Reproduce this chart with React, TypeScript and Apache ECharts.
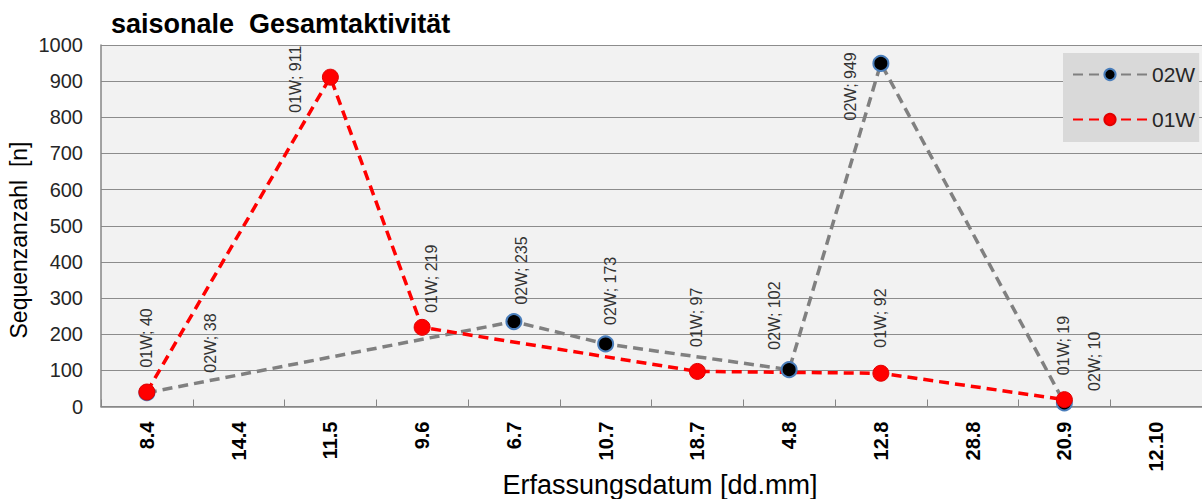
import React, { useEffect, useRef } from 'react';
import * as echarts from 'echarts';

const categories = ['8.4', '14.4', '11.5', '9.6', '6.7', '10.7', '18.7', '4.8', '12.8', '28.8', '20.9', '12.10'];
const values02W: (number | null)[] = [38, null, null, null, 235, 173, null, 102, 949, null, 10, null];
const values01W: (number | null)[] = [40, null, 911, 219, null, null, 97, null, 92, null, 19, null];
const seriesNames = ['02W', '01W'];
const yTicks = { min: 0, max: 1000, interval: 100 };

// label anchor offsets (screen px, relative to the point) — style only
const labelOffsets02W: ([number, number] | null)[] = [[65, -19], null, null, null, [9, -16], [6, -18], null, [-14, -19], [-29, 58], null, [31, -11], null];
const labelOffsets01W: ([number, number] | null)[] = [[0, -24], null, [-34, 36], [10, -14], null, null, [0, -24], null, [0, -25], null, [0, -24], null];

const FONT = "'Liberation Sans', Arial, sans-serif";

function buildData(values: (number | null)[], offsets: ([number, number] | null)[], size: number) {
  return values.map((v, i) => {
    if (v == null) return null;
    const off = offsets[i] || [0, -20];
    return { value: v, label: { position: [size / 2 + off[0], size / 2 + off[1]] } };
  });
}

export default function App() {
  const ref = useRef<HTMLDivElement>(null);
  useEffect(() => {
    if (!ref.current) return;
    const chart = echarts.init(ref.current, undefined, { renderer: 'svg' });
    const labelCommon = {
      show: true,
      rotate: 90,
      align: 'left',
      verticalAlign: 'middle',
      fontSize: 16,
      color: '#333',
      fontFamily: FONT,
      formatter: (p: any) => `${p.seriesName}; ${p.value}`,
    };
    const size02 = 15;
    const size01 = 16;
    chart.setOption({
      animation: false,
      backgroundColor: '#ffffff',
      title: {
        text: 'saisonale  Gesamtaktivität',
        left: 111,
        top: 10,
        padding: 0,
        textStyle: { fontSize: 27, fontWeight: 'bold', color: '#000', fontFamily: FONT },
      },
      legend: {
        orient: 'vertical',
        left: 1063,
        top: 53,
        padding: [11, 4, 12, 9],
        itemGap: 24,
        itemWidth: 74,
        itemHeight: 14,
        backgroundColor: '#d9d9d9',
        textStyle: { fontSize: 21, color: '#262626', fontFamily: FONT },
        data: seriesNames,
      },
      grid: {
        left: 101,
        right: -6,
        top: 45,
        bottom: 92.5,
        show: true,
        backgroundColor: '#f2f2f2',
        borderWidth: 0,
      },
      xAxis: {
        type: 'category',
        data: categories,
        boundaryGap: true,
        axisLine: { lineStyle: { color: '#868686', width: 1.5 } },
        axisTick: { show: true, inside: true, length: 7, lineStyle: { color: '#868686', width: 1 } },
        axisLabel: { rotate: 90, interval: 0, fontWeight: 'bold', fontSize: 20, color: '#000', margin: 15, fontFamily: FONT },
        splitLine: { show: false },
      },
      yAxis: {
        type: 'value',
        min: yTicks.min,
        max: yTicks.max,
        interval: yTicks.interval,
        axisLine: { show: true, lineStyle: { color: '#868686', width: 1.5 } },
        axisTick: { show: false },
        axisLabel: { fontSize: 20, color: '#262626', margin: 18, fontFamily: FONT, formatter: (v: number) => String(v) },
        splitLine: { lineStyle: { color: '#8c8c8c', width: 1.2 } },
      },
      graphic: [
        {
          type: 'text',
          x: 19,
          y: 240,
          rotation: Math.PI / 2,
          style: { text: 'Sequenzanzahl  [n]', fontSize: 23, fill: '#000', fontFamily: FONT, textAlign: 'center', textVerticalAlign: 'middle' },
        },
        {
          type: 'text',
          x: 660,
          y: 485,
          style: { text: 'Erfassungsdatum [dd.mm]', fontSize: 27, fill: '#000', fontFamily: FONT, textAlign: 'center', textVerticalAlign: 'middle' },
        },
      ],
      series: [
        {
          name: seriesNames[0],
          type: 'line',
          data: buildData(values02W, labelOffsets02W, size02),
          connectNulls: true,
          symbol: 'circle',
          symbolSize: size02,
          lineStyle: { color: '#808080', width: 3.5, type: [10, 6] },
          itemStyle: { color: '#000000', borderColor: '#4a7ebb', borderWidth: 2 },
          label: labelCommon,
        },
        {
          name: seriesNames[1],
          type: 'line',
          data: buildData(values01W, labelOffsets01W, size01),
          connectNulls: true,
          symbol: 'circle',
          symbolSize: size01,
          lineStyle: { color: '#ff0000', width: 3.5, type: [10, 6] },
          itemStyle: { color: '#ff0000', borderColor: '#e00000', borderWidth: 1 },
          label: labelCommon,
        },
      ],
    });
    return () => chart.dispose();
  }, []);
  return <div ref={ref} style={{ position: 'fixed', left: 0, top: 0, width: 1202, height: 499 }} />;
}
